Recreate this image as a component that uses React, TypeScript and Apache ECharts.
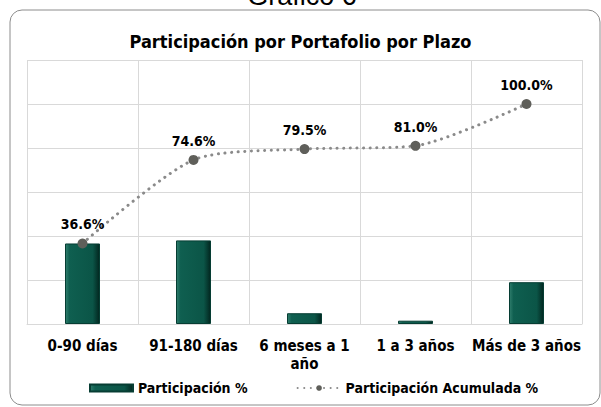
import React, { useEffect, useRef } from "react";
import * as echarts from "echarts";

const categories = ["0-90 días", "91-180 días", "6 meses a 1 año", "1 a 3 años", "Más de 3 años"];
const participacion = [36.6, 38.0, 4.9, 1.5, 19.0];
const acumulada = [36.6, 74.6, 79.5, 81.0, 100.0];
const chartTitle = "Participación por Portafolio por Plazo";
const outerTitle = "Gráfico 6";
const seriesNames = ["Participación %", "Participación Acumulada %"];

const FONT = "'DejaVu Sans Condensed', 'DejaVu Sans', sans-serif";

export default function App() {
  const ref = useRef<HTMLDivElement>(null);
  useEffect(() => {
    if (!ref.current) return;
    const chart = echarts.init(ref.current, null, { renderer: "svg" });
    const barColor = new echarts.graphic.LinearGradient(0, 0, 1, 0, [
      { offset: 0, color: "#2f7d6c" },
      { offset: 0.12, color: "#0f5f50" },
      { offset: 0.8, color: "#0b5547" },
      { offset: 1, color: "#02261f" },
    ]);
    chart.setOption({
      animation: false,
      backgroundColor: "#ffffff",
      textStyle: { fontFamily: FONT },
      graphic: [
        {
          type: "rect",
          shape: { x: 10, y: 10, width: 590, height: 395, r: 12 },
          style: { fill: "#ffffff", stroke: "#8c8c8c", lineWidth: 1 },
          z: -10,
          silent: true,
        },
        {
          type: "text",
          x: 302,
          y: 9,
          style: {
            text: outerTitle,
            fontSize: 27,
            fontFamily: "'Liberation Sans', Arial, sans-serif",
            fill: "#000",
            textAlign: "center",
            textVerticalAlign: "bottom",
          },
        },
      ],
      title: {
        text: chartTitle,
        left: "center",
        top: 27,
        textStyle: { fontSize: 18, fontWeight: "bold", color: "#000", fontFamily: FONT },
      },
      grid: { left: 27, right: 19, top: 60, bottom: 83, containLabel: false },
      legend: {
        top: 381,
        left: 89,
        padding: 0,
        itemGap: 49,
        itemWidth: 43,
        itemHeight: 7,
        textStyle: { fontSize: 14, fontWeight: "bold", color: "#000", fontFamily: FONT },
        data: [
          { name: seriesNames[0], icon: "rect" },
          { name: seriesNames[1] },
        ],
      },
      xAxis: {
        type: "category",
        data: categories,
        axisLine: { show: true, lineStyle: { color: "#d9d9d9" } },
        axisTick: { show: false },
        splitLine: { show: true, lineStyle: { color: "#d9d9d9" } },
        axisLabel: {
          interval: 0,
          fontSize: 15,
          fontWeight: "bold",
          color: "#000",
          margin: 13,
          fontFamily: FONT,
          lineHeight: 18,
          formatter: (v: string) => (v === "6 meses a 1 año" ? "6 meses a 1\naño" : v),
        },
      },
      yAxis: {
        type: "value",
        min: 0,
        max: 120,
        interval: 20,
        axisLabel: { show: false },
        axisLine: { show: false },
        axisTick: { show: false },
        splitLine: { lineStyle: { color: "#d9d9d9" } },
      },
      series: [
        {
          name: seriesNames[0],
          type: "bar",
          data: participacion,
          barWidth: 35,
          itemStyle: { color: barColor, borderColor: "#063d33", borderWidth: 1 },
          z: 2,
        },
        {
          name: seriesNames[1],
          type: "line",
          data: acumulada,
          smooth: 0.25,
          symbol: "circle",
          symbolSize: 10,
          itemStyle: { color: "#5f5f5a" },
          lineStyle: { color: "#8a8a8a", width: 3, type: [0.1, 6.5], cap: "round" },
          label: {
            show: true,
            position: "top",
            distance: 7,
            formatter: (p: any) => p.value.toFixed(1) + "%",
            fontSize: 14,
            fontWeight: "bold",
            color: "#000",
            fontFamily: FONT,
          },
          z: 3,
        },
      ],
    });
    return () => chart.dispose();
  }, []);
  return (
    <div
      ref={ref}
      style={{ position: "fixed", left: 0, top: 0, width: 601, height: 407 }}
    />
  );
}
